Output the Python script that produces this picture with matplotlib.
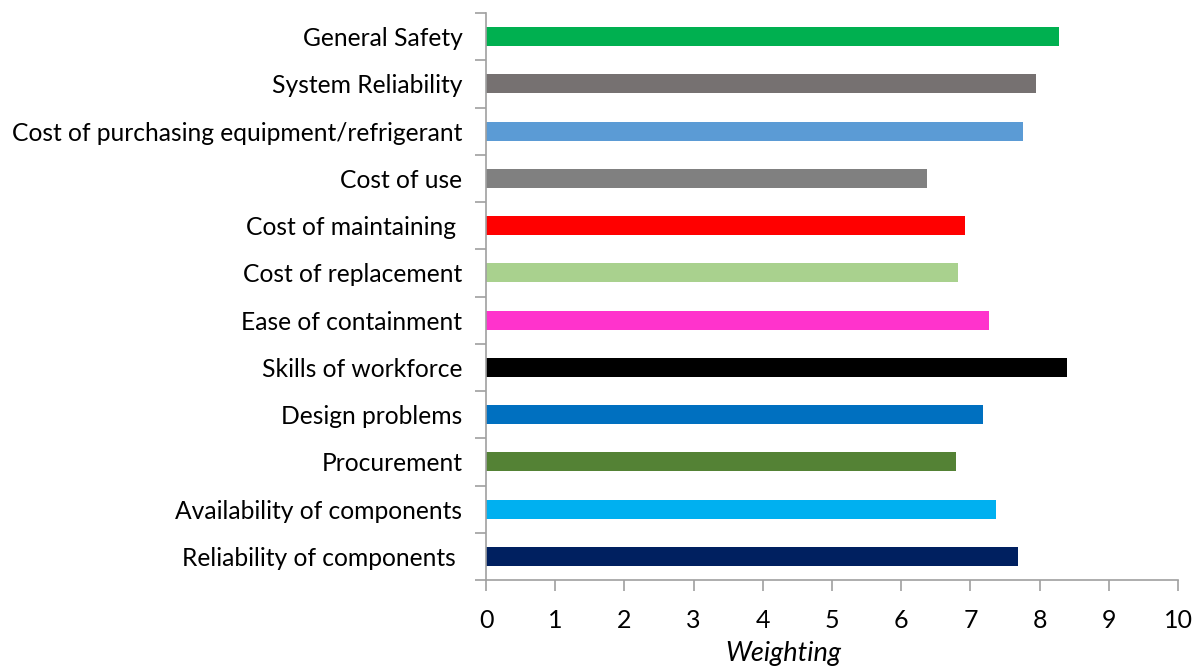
import numpy as np
import matplotlib.pyplot as plt

# bottom to top, as Excel draws a bar chart
factors = ["Reliability of components ", "Availability of components", "Procurement",
           "Design problems", "Skills of workforce", "Ease of containment",
           "Cost of replacement", "Cost of maintaining ", "Cost of use",
           "Cost of purchasing equipment/refrigerant", "System Reliability", "General Safety"]
weights = [7.69, 7.37, 6.79, 7.18, 8.40, 7.27, 6.82, 6.92, 6.37, 7.76, 7.95, 8.28]
colours = ["#002060", "#00B0F0", "#548235", "#0070C0", "#000000", "#FF33CC",
           "#A9D18E", "#FF0000", "#808080", "#5B9BD5", "#767171", "#00B050"]

plt.rcParams['font.family'] = ['Lato', 'DejaVu Sans']

fig = plt.figure(figsize=(11.93, 6.70), dpi=100)
ax = fig.add_axes([0.4074, 0.1343, 0.5800, 0.8463])

ypos = np.arange(len(factors))
ax.barh(ypos, weights, height=0.4, color=colours)

ax.set_xlim(0, 10)
ax.set_ylim(-0.5, len(factors) - 0.5)
ax.set_xticks(np.arange(0, 11, 1))
ax.set_yticks(ypos)
ax.set_yticklabels(factors)
# tick marks sit between categories, labels in the middle
ax.set_yticks(np.arange(-0.5, len(factors), 1), minor=True)
ax.tick_params(axis='y', which='major', length=0, pad=17, labelsize=17.7)
ax.tick_params(axis='y', which='minor', length=8, color='#A0A0A0', width=1.2)
ax.tick_params(axis='x', length=8, color='#A0A0A0', width=1.2, pad=13, labelsize=18)

for side in ['top', 'right']:
    ax.spines[side].set_visible(False)
for side in ['left', 'bottom']:
    ax.spines[side].set_color('#A0A0A0')
    ax.spines[side].set_linewidth(1.2)

ax.set_xlabel("Weighting", fontsize=19.5, style='italic')
ax.xaxis.set_label_coords(0.429, -0.108)

fig.savefig("out.png", dpi=100)
